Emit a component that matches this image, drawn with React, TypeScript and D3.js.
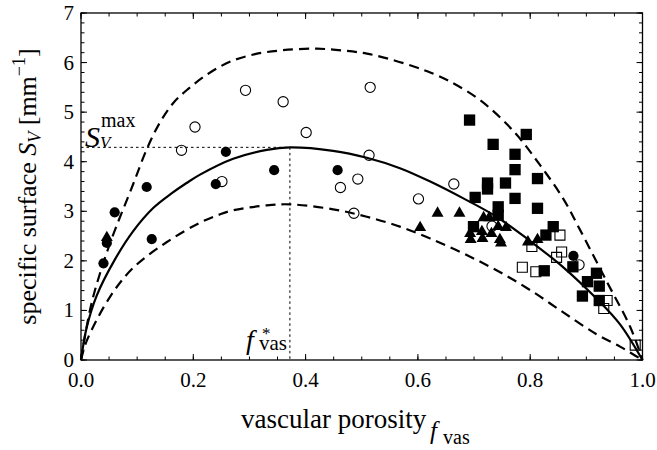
import React from 'react';
import * as d3 from 'd3';

type Pt = [number, number];

// model curves (f_vas, S_V)
const upperCurve: Pt[] = [
  [0, 0], [0.005, 0.35], [0.02, 1.2], [0.05, 2.3], [0.093, 3.55], [0.117, 4.25], [0.14, 4.78],
  [0.164, 5.18], [0.19, 5.46], [0.226, 5.77], [0.266, 6.02], [0.31, 6.17], [0.36, 6.25],
  [0.42, 6.28], [0.47, 6.24], [0.509, 6.18], [0.55, 6.07], [0.598, 5.9], [0.622, 5.8],
  [0.657, 5.62], [0.711, 5.24], [0.77, 4.62], [0.817, 3.94], [0.859, 3.25], [0.889, 2.62],
  [0.936, 1.59], [0.978, 0.67], [1, 0],
];

const meanCurve: Pt[] = [
  [0, 0], [0.01, 0.65], [0.028, 1.3], [0.06, 2.02], [0.093, 2.6], [0.129, 3.07], [0.16, 3.35],
  [0.188, 3.57], [0.212, 3.74], [0.271, 4.06], [0.331, 4.24], [0.372, 4.29], [0.449, 4.22],
  [0.509, 4.08], [0.568, 3.87], [0.622, 3.6], [0.681, 3.26], [0.74, 2.89], [0.8, 2.4],
  [0.859, 1.87], [0.918, 1.24], [0.96, 0.72], [1, 0],
];

const lowerCurve: Pt[] = [
  [0, 0], [0.01, 0.38], [0.052, 1.28], [0.093, 1.86], [0.153, 2.38], [0.212, 2.77],
  [0.248, 2.94], [0.271, 3.02], [0.331, 3.12], [0.372, 3.14], [0.449, 3.04], [0.509, 2.89],
  [0.568, 2.69], [0.622, 2.45], [0.681, 2.15], [0.74, 1.81], [0.8, 1.41], [0.859, 0.96],
  [0.918, 0.52], [0.96, 0.27], [0.978, 0.15], [1, 0],
];

// measurements
const filledCircles: Pt[] = [
  [0.040, 1.95], [0.046, 2.36], [0.060, 2.98], [0.117, 3.49], [0.126, 2.44], [0.240, 3.55],
  [0.258, 4.20], [0.344, 3.83], [0.457, 3.83], [0.877, 2.10],
];

const openCircles: Pt[] = [
  [0.179, 4.23], [0.203, 4.70], [0.293, 5.44], [0.360, 5.21], [0.401, 4.59], [0.515, 5.50],
  [0.513, 4.13], [0.251, 3.60], [0.462, 3.48], [0.493, 3.65], [0.601, 3.25], [0.486, 2.96],
  [0.664, 3.55], [0.732, 2.70], [0.887, 1.92],
];

const filledTriangles: Pt[] = [
  [0.046, 2.47], [0.604, 2.67], [0.635, 2.96], [0.674, 2.96], [0.717, 2.87], [0.727, 2.87],
  [0.743, 2.69], [0.757, 2.67], [0.693, 2.55], [0.714, 2.59], [0.731, 2.55], [0.694, 2.43],
  [0.715, 2.45], [0.746, 2.43], [0.748, 2.36], [0.796, 2.38], [0.813, 2.43],
];

const filledSquares: Pt[] = [
  [0.692, 4.84], [0.793, 4.55], [0.734, 4.35], [0.773, 4.15], [0.773, 3.84], [0.813, 3.66],
  [0.724, 3.57], [0.724, 3.45], [0.756, 3.57], [0.702, 3.28], [0.773, 3.26], [0.743, 3.09],
  [0.743, 2.92], [0.813, 3.06], [0.699, 2.69], [0.841, 2.69], [0.828, 2.52], [0.825, 1.80],
  [0.876, 1.88], [0.918, 1.75], [0.902, 1.58], [0.923, 1.49], [0.893, 1.29], [0.923, 1.20],
];

const openSquares: Pt[] = [
  [0.853, 2.52], [0.856, 2.18], [0.847, 2.07], [0.786, 1.87], [0.810, 1.78], [0.803, 2.29],
  [0.937, 1.20], [0.931, 1.04], [0.987, 0.30],
];

const fStar = 0.372;
const sMax = 4.29;

const xTickLabels = ['0.0', '0.2', '0.4', '0.6', '0.8', '1.0'];
const yTickLabels = ['0', '1', '2', '3', '4', '5', '6', '7'];

const W = 657;
const H = 450;
const FONT = '"Liberation Serif", "DejaVu Serif", serif';

export default function App() {
  const x = d3.scaleLinear().domain([0, 1]).range([81, 642.5]);
  const y = d3.scaleLinear().domain([0, 7]).range([360, 13]);
  const [x0, x1] = x.range();
  const [y0, y1] = y.range();

  const line = d3.line<Pt>()
    .x(d => x(d[0]))
    .y(d => y(d[1]))
    .curve(d3.curveCatmullRom.alpha(0.5));

  const circle = d3.symbol().type(d3.symbolCircle).size(82)()!;
  const square = d3.symbol().type(d3.symbolSquare).size(128)()!;
  const openSquare = d3.symbol().type(d3.symbolSquare).size(100)()!;
  const triangle = d3.symbol().type(d3.symbolTriangle).size(62)()!;

  const xMajor = d3.range(0, 1.0001, 0.2);
  const xMinor = d3.range(0, 1.0001, 0.05);
  const yMajor = d3.range(0, 7.0001, 1);
  const yMinor = d3.range(0, 7.0001, 0.2);

  const tickPath = (len: number, vals: number[], isX: boolean) =>
    vals.map(v => isX
      ? `M${x(v)},${y0}v${-len}M${x(v)},${y1}v${len}`
      : `M${x0},${y(v)}h${len}M${x1},${y(v)}h${-len}`).join('');

  return (
    <svg width={W} height={H} style={{ position: 'absolute', left: 0, top: 0, background: '#fff' }}
      fontFamily={FONT}>
      {/* guide lines for the maximum */}
      <path d={`M${x0},${y(sMax)}H${x(fStar)}`} stroke="#000" strokeWidth={1} strokeDasharray="2.5,3" fill="none" />
      <path d={`M${x(fStar)},${y(sMax)}V${y0}`} stroke="#000" strokeWidth={1} strokeDasharray="2.5,3" fill="none" />

      {/* curves */}
      <path d={line(upperCurve)!} fill="none" stroke="#000" strokeWidth={2.2} strokeDasharray="10,6" />
      <path d={line(lowerCurve)!} fill="none" stroke="#000" strokeWidth={2.2} strokeDasharray="10,6" />
      <path d={line(meanCurve)!} fill="none" stroke="#000" strokeWidth={2.2} />

      {/* markers */}
      {openCircles.map((d, i) => (
        <path key={'oc' + i} d={circle} transform={`translate(${x(d[0])},${y(d[1])})`} fill="none" stroke="#000" strokeWidth={1.1} />
      ))}
      {openSquares.map((d, i) => (
        <path key={'os' + i} d={openSquare} transform={`translate(${x(d[0])},${y(d[1])})`} fill="none" stroke="#000" strokeWidth={1.1} />
      ))}
      {filledCircles.map((d, i) => (
        <path key={'fc' + i} d={circle} transform={`translate(${x(d[0])},${y(d[1])})`} fill="#000" />
      ))}
      {filledSquares.map((d, i) => (
        <path key={'fs' + i} d={square} transform={`translate(${x(d[0])},${y(d[1])})`} fill="#000" />
      ))}
      {filledTriangles.map((d, i) => (
        <path key={'ft' + i} d={triangle} transform={`translate(${x(d[0])},${y(d[1])})`} fill="#000" />
      ))}

      {/* frame and ticks */}
      <rect x={x0} y={y1} width={x1 - x0} height={y0 - y1} fill="none" stroke="#000" strokeWidth={1.3} />
      <path d={tickPath(6, xMajor, true) + tickPath(3.5, xMinor, true)} stroke="#000" strokeWidth={1} />
      <path d={tickPath(6, yMajor, false) + tickPath(3.5, yMinor, false)} stroke="#000" strokeWidth={1} />

      {xMajor.map((v, i) => (
        <text key={'xt' + i} x={x(v)} y={387} fontSize={21} textAnchor="middle">{xTickLabels[i]}</text>
      ))}
      {yMajor.map((v, i) => (
        <text key={'yt' + i} x={74} y={y(v) + 7} fontSize={21} textAnchor="end">{yTickLabels[i]}</text>
      ))}

      {/* axis titles */}
      <text x={241} y={428} fontSize={27}>
        vascular porosity
        <tspan x={430} y={439} fontSize={25} fontStyle="italic">f</tspan>
        <tspan x={443} y={444} fontSize={20}>vas</tspan>
      </text>

      <text transform={`translate(36,${(y0 + y1) / 2}) rotate(-90)`} textAnchor="middle" fontSize={26}>
        specific surface <tspan fontStyle="italic">S</tspan>
        <tspan fontStyle="italic" fontSize={18} dy={5}>V</tspan>
        <tspan dy={-5}> [mm</tspan>
        <tspan fontSize={18} dy={-11}>−1</tspan>
        <tspan dy={11}>]</tspan>
      </text>

      {/* annotations */}
      <text x={85} y={147} fontSize={30} fontStyle="italic">
        S
        <tspan x={100} y={148} fontSize={17}>V</tspan>
        <tspan x={101} y={127} fontSize={20} fontStyle="normal">max</tspan>
      </text>

      <text x={246} y={349} fontSize={28} fontStyle="italic">
        f
        <tspan x={262} y={339} fontSize={17} fontStyle="normal">*</tspan>
        <tspan x={259} y={350} fontSize={21} fontStyle="normal">vas</tspan>
      </text>
    </svg>
  );
}
